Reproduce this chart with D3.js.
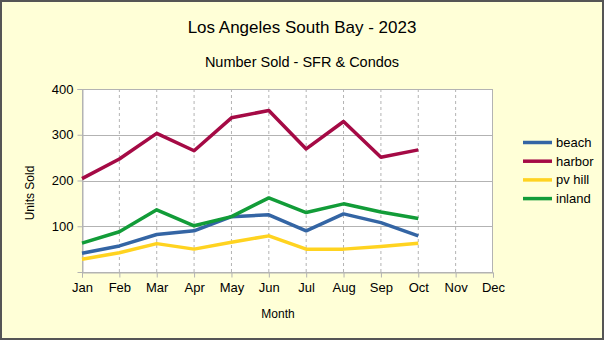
<!DOCTYPE html>
<html><head><meta charset="utf-8">
<script src="https://cdn.jsdelivr.net/npm/d3@7"></script>
<style>body{margin:0;padding:0;background:#fff}svg{display:block}</style>
</head><body><svg id="c" width="604" height="340"></svg>
<script>
const months = ["Jan","Feb","Mar","Apr","May","Jun","Jul","Aug","Sep","Oct","Nov","Dec"];
const beach  = [41, 57, 82, 90, 121, 125, 90, 127, 108, 79];
const harbor = [204, 247, 303, 265, 337, 353, 269, 329, 251, 267];
const pvhill = [28, 42, 62, 50, 65, 79, 50, 50, 56, 63];
const inland = [63, 88, 136, 101, 121, 162, 130, 149, 131, 117];
const seriesNames = ["beach","harbor","pv hill","inland"];
const seriesColors = ["#3465a4","#a50a45","#ffd320","#129c38"];
const yTicks = [100, 200, 300, 400];

const series = [beach, harbor, pvhill, inland];
const svg = d3.select("#c");
const font = "'Liberation Sans', Arial, sans-serif";

svg.append("rect").attr("x",1).attr("y",1).attr("width",602).attr("height",338)
  .attr("fill","#ffffd7").attr("stroke","#555").attr("stroke-width",2);

const L = 82, R = 493, T = 89, B = 272;
const x = d3.scalePoint().domain(months).range([L, R]);
const y = d3.scaleLinear().domain([0, 400]).range([B, T]);

svg.append("rect").attr("x",L).attr("y",T).attr("width",R-L).attr("height",B-T).attr("fill","#fff");

// vertical dashed grid
svg.append("g").selectAll("line").data(months.slice(1, -1)).join("line")
  .attr("x1",d=>x(d)).attr("x2",d=>x(d)).attr("y1",T).attr("y2",B)
  .attr("stroke","#b3b3b3").attr("stroke-dasharray","3,3").attr("stroke-width",1);
// horizontal grid
svg.append("g").selectAll("line").data(yTicks.slice(0,-1)).join("line")
  .attr("x1",L).attr("x2",R).attr("y1",d=>Math.round(y(d))+0.5).attr("y2",d=>Math.round(y(d))+0.5)
  .attr("stroke","#b3b3b3").attr("stroke-width",1);

// plot border
svg.append("rect").attr("x",L+0.5).attr("y",T+0.5).attr("width",R-L-1).attr("height",B-T)
  .attr("fill","none").attr("stroke","#b3b3b3").attr("stroke-width",1);

// axes
const xAxis = d3.axisBottom(x).tickSize(5).tickPadding(5);
const gx = svg.append("g").attr("transform",`translate(0,${B+0.5})`).call(xAxis);
gx.select(".domain").attr("stroke","#b3b3b3");
gx.selectAll(".tick line").attr("stroke","#b3b3b3");
gx.selectAll("text").attr("font-family",font).attr("font-size",13).attr("fill","#000");

const yAxis = d3.axisLeft(y).tickValues(yTicks).tickSize(5).tickPadding(4);
const gy = svg.append("g").attr("transform",`translate(${L+0.5},0)`).call(yAxis);
gy.select(".domain").attr("stroke","#b3b3b3");
gy.selectAll(".tick line").attr("stroke","#b3b3b3");
gy.selectAll("text").attr("font-family",font).attr("font-size",13).attr("fill","#000");

// lines
const line = d3.line().x((d,i)=>x(months[i])).y(d=>y(d));
series.forEach((s,i)=>{
  svg.append("path").datum(s).attr("d",line).attr("fill","none")
    .attr("stroke",seriesColors[i]).attr("stroke-width",3.5).attr("stroke-linejoin","round");
});

// legend
const lg = svg.append("g");
seriesNames.forEach((n,i)=>{
  const yy = 142.5 + i*18.7;
  lg.append("line").attr("x1",523).attr("x2",552).attr("y1",yy).attr("y2",yy)
    .attr("stroke",seriesColors[i]).attr("stroke-width",3.5);
  lg.append("text").attr("x",556).attr("y",yy).attr("dy","0.35em")
    .attr("font-family",font).attr("font-size",13).attr("fill","#000").text(n);
});

// titles
svg.append("text").attr("x",302).attr("y",33).attr("text-anchor","middle")
  .attr("font-family",font).attr("font-size",17).attr("fill","#000").text("Los Angeles South Bay - 2023");
svg.append("text").attr("x",302).attr("y",67).attr("text-anchor","middle")
  .attr("font-family",font).attr("font-size",14.5).attr("fill","#000").text("Number Sold - SFR & Condos");
svg.append("text").attr("x",278).attr("y",318).attr("text-anchor","middle")
  .attr("font-family",font).attr("font-size",12).attr("fill","#000").text("Month");
svg.append("text").attr("transform","translate(34,193) rotate(-90)").attr("text-anchor","middle")
  .attr("font-family",font).attr("font-size",12).attr("fill","#000").text("Units Sold");
</script></body></html>
